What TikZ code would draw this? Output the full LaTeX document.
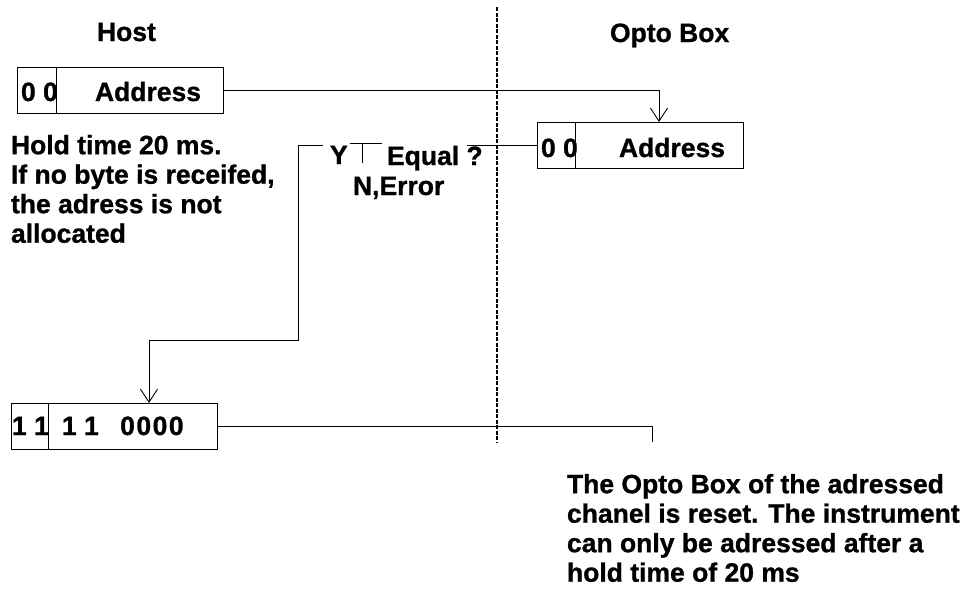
\documentclass[tikz,border=0pt]{standalone}
\usepackage{fontspec}
\setmainfont{Liberation Sans}[BoldFeatures={FakeBold=1}]
\usetikzlibrary{arrows.meta}
\begin{document}
\begin{tikzpicture}[x=1pt,y=-1pt,
  every node/.style={font=\fontsize{26.5}{29.5}\selectfont\bfseries, inner sep=0pt, outer sep=0pt},
  fld/.style={draw, line width=0.9pt, minimum height=46pt, anchor=north west},
  ln/.style={line width=0.9pt},
  arr/.style={ln, -{Straight Barb[length=13pt,width=17pt,line width=0.9pt]}},
  txt/.style={anchor=base west},
  para/.style={anchor=north west, align=left},
  divider/.style={line width=1.2pt, dash pattern=on 4pt off 1.5pt}
  ]
\useasboundingbox (0,0) rectangle (980,589);

% titles
\node[txt] (host) at (97,41) {Host};
\node[txt] (opto) at (610,42) {Opto Box};

% host address box
\node[fld, minimum width=39pt] (h0) at (17,67) {};
\node[fld, minimum width=167pt] (hA) at (h0.north east) {};
\node[txt] (h0t) at (21,101) {0 0};
\node[txt] (hAt) at (95,101) {Address};

% opto address box
\node[fld, minimum width=38pt] (o0) at (537,122) {};
\node[fld, minimum width=168pt] (oA) at (o0.north east) {};
\node[txt] (o0t) at (541,157) {0 0};
\node[txt] (oAt) at (619,157) {Address};

% bottom box
\node[fld, minimum width=37pt] (b0) at (11,403) {};
\node[fld, minimum width=169pt] (bD) at (b0.north east) {};
\node[txt] (b0t) at (12,435) {1 1};
\node[txt] (bDt) at (62,435) {1 1\hspace{14pt} 0\hspace{1.5pt}0\hspace{1.5pt}0\hspace{1.5pt}0};

% decision texts
\node[txt] (ytxt) at (330,164) {Y};
\node[txt] (eq) at (387,165) {Equal ?};
\node[txt] (nerr) at (353,195) {N,Error};

% paragraphs
\node[para] (hold) at (11,135) {Hold time 20 ms.\\If no byte is receifed,\\the adress is not\\allocated};
\node[para] (reset) at (567,474) {The Opto Box of the adressed\\chanel is reset. The instrument\\can only be adressed after a\\hold time of 20 ms};

% coordinates
\coordinate (eqend) at (467,143);
\coordinate (ystart) at (323,145);
\coordinate (ycorner) at (298,145);
\coordinate (ylow) at (298,340);
\coordinate (arrx) at (149,340);
\coordinate (tick) at (652,442);
\coordinate (dtop) at (497,7);
\coordinate (dbot) at (497,443);

% connectors
\draw[arr] (hA.east) -| (oA.north);
\draw[ln] (o0.west) -- (o0.west -| eqend);
\draw[arr] (ystart) -- (ycorner) -- (ylow) -- (arrx) -- (arrx |- bD.north);
\draw[ln] (bD.east) -| (tick);
\draw[ln] (350,143) -- (382,143);
\draw[ln] (362,143) -- (362,163);

% divider
\draw[divider] (dtop) -- (dbot);
\end{tikzpicture}
\end{document}
